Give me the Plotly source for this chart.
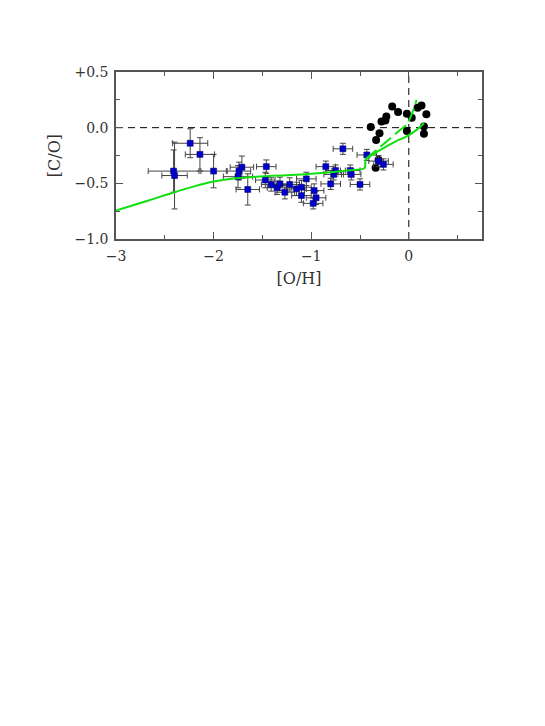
import plotly.graph_objects as go

# blue squares: [O/H], [C/O] with errors
oh_blue = [-2.24, -2.14, -2.41, -2.40, -2.00, -1.71, -1.74, -1.75, -1.65,
           -1.46, -1.47, -1.41, -1.35, -1.32, -1.27, -1.22, -1.15, -1.10,
           -1.10, -1.05, -0.97, -0.95, -0.98, -0.85, -0.80, -0.77, -0.75,
           -0.675, -0.60, -0.59, -0.50, -0.43, -0.31, -0.26]
co_blue = [-0.14, -0.24, -0.39, -0.43, -0.39, -0.355, -0.39, -0.44, -0.555,
           -0.35, -0.47, -0.51, -0.54, -0.505, -0.58, -0.51, -0.55, -0.535,
           -0.61, -0.46, -0.565, -0.63, -0.68, -0.35, -0.505, -0.42, -0.385,
           -0.19, -0.385, -0.42, -0.51, -0.245, -0.30, -0.33]
oh_err = [0.18, 0.15, 0.26, 0.13, 0.13, 0.12, 0.12, 0.15, 0.12,
          0.10, 0.10, 0.10, 0.10, 0.10, 0.10, 0.10, 0.10, 0.10,
          0.10, 0.10, 0.10, 0.10, 0.10, 0.10, 0.10, 0.10, 0.10,
          0.10, 0.10, 0.10, 0.10, 0.10, 0.10, 0.10]
co_err = [0.13, 0.15, 0.19, 0.30, 0.15, 0.10, 0.08, 0.10, 0.14,
          0.06, 0.07, 0.06, 0.06, 0.06, 0.06, 0.06, 0.06, 0.06,
          0.06, 0.06, 0.06, 0.06, 0.05, 0.05, 0.05, 0.05, 0.05,
          0.05, 0.05, 0.05, 0.05, 0.05, 0.05, 0.05]

# black circles
oh_black = [-0.39, -0.30, -0.335, -0.28, -0.23, -0.24, -0.17, -0.11, -0.02,
            0.03, 0.09, 0.13, 0.18, 0.155, 0.155, -0.02, -0.31, -0.34]
co_black = [0.005, -0.05, -0.11, 0.055, 0.10, 0.065, 0.19, 0.14, 0.125,
            0.09, 0.18, 0.20, 0.12, 0.01, -0.055, -0.03, -0.29, -0.36]

# model curves
model_x = [-3.0, -2.8, -2.6, -2.4, -2.2, -2.0, -1.8, -1.6, -1.4, -1.2, -1.0,
           -0.8, -0.6, -0.47, -0.45, -0.445, -0.44]
model_y = [-0.745, -0.69, -0.635, -0.58, -0.527, -0.484, -0.457, -0.442, -0.433,
           -0.425, -0.415, -0.40, -0.383, -0.37, -0.36, -0.30, -0.28]
low_x = [-0.44, -0.35, -0.21, -0.13, -0.04, 0.08, 0.155]
low_y = [-0.28, -0.23, -0.16, -0.12, -0.087, -0.02, 0.04]
up_x = [-0.44, -0.33, -0.195, -0.13, -0.02, 0.03, 0.08]
up_y = [-0.28, -0.20, -0.10, -0.05, 0.03, 0.12, 0.25]

green = "#10E010"
font = "DejaVu Serif"

fig = go.Figure()

fig.add_trace(go.Scatter(
    x=oh_black, y=co_black, mode="markers",
    marker=dict(symbol="circle", size=8, color="black"),
    showlegend=False,
))
fig.add_trace(go.Scatter(
    x=oh_blue, y=co_blue, mode="markers",
    marker=dict(symbol="square", size=6, color="#0000CC",
                line=dict(color="#000066", width=0.5)),
    error_x=dict(type="data", array=oh_err, color="#444444", thickness=1, width=3),
    error_y=dict(type="data", array=co_err, color="#444444", thickness=1, width=3),
    showlegend=False,
))
fig.add_trace(go.Scatter(x=model_x, y=model_y, mode="lines",
                         line=dict(color=green, width=2, shape="spline", smoothing=0.6),
                         showlegend=False))
fig.add_trace(go.Scatter(x=low_x, y=low_y, mode="lines",
                         line=dict(color=green, width=2, shape="spline", smoothing=0.6),
                         showlegend=False))
fig.add_trace(go.Scatter(x=up_x, y=up_y, mode="lines",
                         line=dict(color=green, width=2, dash="14px,5px",
                                   shape="spline", smoothing=0.6),
                         showlegend=False))

# reference lines at zero
fig.add_shape(type="line", xref="x", yref="paper", x0=0, x1=0, y0=0, y1=1,
              line=dict(color="black", width=1, dash="7px,5px"), layer="below")
fig.add_shape(type="line", xref="paper", yref="y", x0=0, x1=1, y0=0, y1=0,
              line=dict(color="black", width=1, dash="7px,5px"), layer="below")

axis_style = dict(
    showline=True, linecolor="#555555", linewidth=1.5, mirror="allticks",
    ticks="inside", ticklen=7, tickcolor="#555555", showgrid=False,
    zeroline=False, ticklabelstandoff=3,
    tickfont=dict(family=font, size=14, color="#333333"),
)

fig.update_layout(
    width=545, height=726,
    margin=dict(l=108, r=71, t=64, b=495),
    paper_bgcolor="white", plot_bgcolor="white",
    xaxis=dict(
        range=[-3, 0.75], tickvals=[-3, -2, -1, 0],
        ticktext=["\u22123", "\u22122", "\u22121", "0"],
        minor=dict(ticks="inside", ticklen=4, dtick=0.5, tick0=0, tickcolor="#555555"),
        title=dict(text="[O/H]", font=dict(family=font, size=16, color="#333333"),
                   standoff=10),
        **axis_style,
    ),
    yaxis=dict(
        range=[-1.0, 0.5], tickvals=[0.5, 0.0, -0.5, -1.0],
        ticktext=["+0.5", "0.0", "\u22120.5", "\u22121.0"],
        minor=dict(ticks="inside", ticklen=4, dtick=0.25, tick0=0, tickcolor="#555555"),
        title=dict(text="[C/O]", font=dict(family=font, size=16, color="#333333"),
                   standoff=10),
        **axis_style,
    ),
)

fig.write_html("out.html")
